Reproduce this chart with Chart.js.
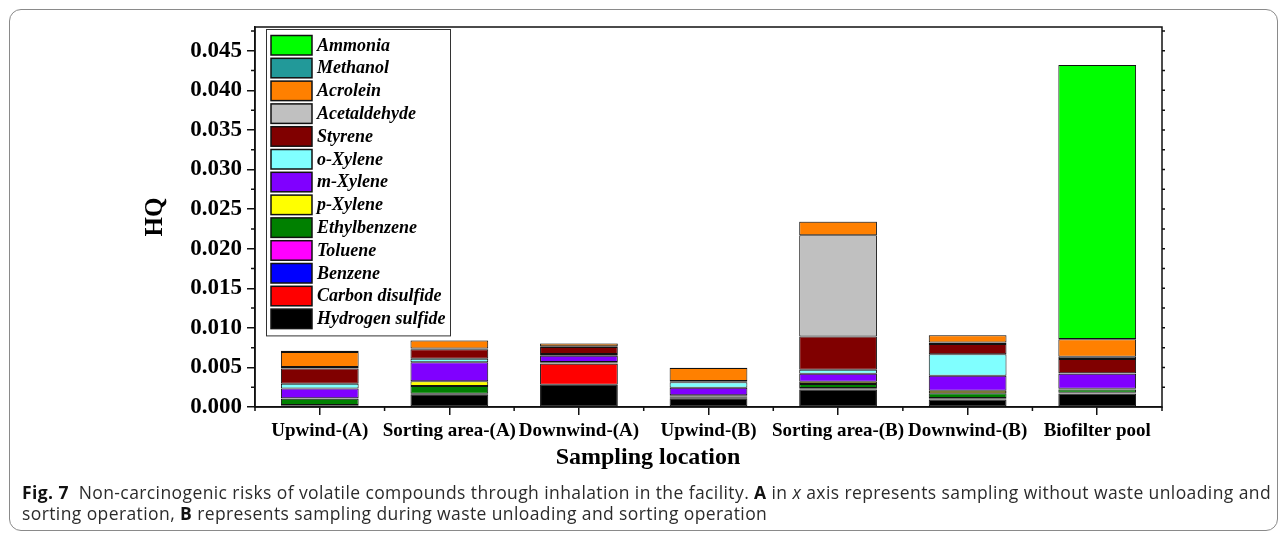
<!DOCTYPE html>
<html>
<head>
<meta charset="utf-8">
<script src="https://cdn.jsdelivr.net/npm/chart.js@4"></script>
<style>
  html, body { margin: 0; padding: 0; background: #fff; }
  #page { position: relative; width: 1285px; height: 538px; }
  #frame { position: absolute; left: 9px; top: 9px; width: 1267px; height: 520px;
           border: 1px solid #8a8a8a; border-radius: 12px; }
  #hqChart { position: absolute; left: 0; top: 0; }
  #caption { position: absolute; left: 22px; top: 482px;
             font-family: "Open Sans", sans-serif; font-size: 17.5px; line-height: 21px;
             color: #2b2b2b; white-space: nowrap; }
  #caption b { color: #111; }
</style>
</head>
<body>
<div id="page">
  <div id="frame"></div>
  <canvas id="hqChart" width="1285" height="538"></canvas>
  <div id="caption">
    <span id="capLine1"><b>Fig. 7</b>&nbsp; Non-carcinogenic risks of volatile compounds through inhalation in the facility. <b>A</b> in <i>x</i> axis represents sampling without waste unloading and</span><br>
    <span id="capLine2">sorting operation, <b>B</b> represents sampling during waste unloading and sorting operation</span>
  </div>
</div>
<script>
const sites = ["Upwind-(A)", "Sorting area-(A)", "Downwind-(A)", "Upwind-(B)", "Sorting area-(B)", "Downwind-(B)", "Biofilter pool"];
const yTicks = [0, 0.005, 0.010, 0.015, 0.020, 0.025, 0.030, 0.035, 0.040, 0.045];
const xTitle = "Sampling location";

// HQ per compound, one value per sampling location
const hydrogenSulfide = [0.00005, 0.0016, 0.0028, 0.0011, 0.0022, 0.00095, 0.0017];
const carbonDisulfide = [0, 0, 0.00265, 0, 0, 0, 0];
const benzene = [0.0001, 0.00003, 0.00005, 0.00003, 0.0001, 0.0001, 0.00005];
const toluene = [0.0001, 0.00003, 0.00005, 0.00003, 0.0001, 0.0001, 0.00005];
const ethylbenzene = [0.0008, 0.001, 0.0001, 0.00017, 0.0005, 0.0006, 0.0004];
const pXylene = [0.00005, 0.0006, 0.00005, 0.00016, 0.0003, 0.0003, 0.0001];
const mXylene = [0.00125, 0.0024, 0.00076, 0.00095, 0.001, 0.0019, 0.0019];
const oXylene = [0.0006, 0.00044, 0.00025, 0.0007, 0.0005, 0.0027, 0.00005];
const styrene = [0.0019, 0.0012, 0.00086, 0.0001, 0.0042, 0.0013, 0.0018];
const acetaldehyde = [0.0002, 0.0001, 0.0001, 0.00005, 0.0128, 0.0002, 0.0003];
const acrolein = [0.0019, 0.001, 0.00035, 0.00165, 0.0017, 0.0009, 0.0022];
const methanol = [0.00015, 0.00003, 0.00003, 0.00003, 0.00003, 0.00005, 0.00005];
const ammonia = [0, 0, 0, 0, 0, 0, 0.0346];

const serif = "'Liberation Serif', 'Times New Roman', serif";

function layer(label, data, color) {
    return {
        label: label,
        data: data,
        backgroundColor: color,
        borderColor: "#111",
        borderWidth: 1,
        borderSkipped: false,
        barPercentage: 0.6,
        categoryPercentage: 1
    };
}

// legend in a framed box in the top-left corner of the plot, top layer first
const boxLegend = {
    id: "boxLegend",
    afterDraw(chart) {
        const ctx = chart.ctx;
        const area = chart.chartArea;
        const sets = chart.data.datasets.slice().reverse();
        const x0 = area.left + 11;
        const y0 = area.top + 2;
        const rowH = 22.8;
        ctx.save();
        ctx.strokeStyle = "#333";
        ctx.lineWidth = 1;
        ctx.strokeRect(x0 + 0.5, y0 + 0.5, 184, sets.length * rowH + 10);
        ctx.font = "bold italic 18px " + serif;
        ctx.textBaseline = "middle";
        sets.forEach((ds, i) => {
            const y = y0 + 6.5 + i * rowH;
            ctx.fillStyle = ds.backgroundColor;
            ctx.fillRect(x0 + 5, y, 41, 19.5);
            ctx.strokeStyle = "#111";
            ctx.lineWidth = 1.5;
            ctx.strokeRect(x0 + 5, y, 41, 19.5);
            ctx.fillStyle = "#000";
            ctx.fillText(ds.label, x0 + 51, y + 10.5);
        });
        ctx.restore();
    }
};

// closed axis box, minor tick marks and the x axis title
const axisFrame = {
    id: "axisFrame",
    afterDraw(chart) {
        const ctx = chart.ctx;
        const a = chart.chartArea;
        const x = chart.scales.x;
        const y = chart.scales.y;
        ctx.save();
        ctx.strokeStyle = "#111";
        ctx.lineWidth = 1.5;
        ctx.strokeRect(a.left, a.top, a.right - a.left, a.bottom - a.top);
        ctx.beginPath();
        for (let v = 0.0025; v < y.max; v += 0.005) {
            const py = y.getPixelForValue(v);
            ctx.moveTo(a.left - 4, py);
            ctx.lineTo(a.left, py);
        }
        for (let v = 0.0025; v < y.max; v += 0.0025) {
            const py = y.getPixelForValue(v);
            ctx.moveTo(a.right, py);
            ctx.lineTo(a.right + 3, py);
        }
        for (let i = 0; i <= sites.length; i++) {
            const px = x.getPixelForValue(i - 0.5);
            ctx.moveTo(px, a.bottom);
            ctx.lineTo(px, a.bottom + 4);
        }
        ctx.stroke();

        ctx.fillStyle = "#000";
        ctx.font = "bold 24px " + serif;
        ctx.textAlign = "center";
        ctx.textBaseline = "middle";
        ctx.fillText(xTitle, a.left + 393, a.bottom + 51);
        ctx.restore();
    }
};

new Chart(document.getElementById("hqChart"), {
    type: "bar",
    data: {
        labels: sites,
        datasets: [
            layer("Hydrogen sulfide", hydrogenSulfide, "#000000"),
            layer("Carbon disulfide", carbonDisulfide, "#ff0000"),
            layer("Benzene", benzene, "#0000ff"),
            layer("Toluene", toluene, "#ff00ff"),
            layer("Ethylbenzene", ethylbenzene, "#008000"),
            layer("p-Xylene", pXylene, "#ffff00"),
            layer("m-Xylene", mXylene, "#8000ff"),
            layer("o-Xylene", oXylene, "#80ffff"),
            layer("Styrene", styrene, "#800000"),
            layer("Acetaldehyde", acetaldehyde, "#c0c0c0"),
            layer("Acrolein", acrolein, "#ff8000"),
            layer("Methanol", methanol, "#229999"),
            layer("Ammonia", ammonia, "#00ff00")
        ]
    },
    options: {
        responsive: false,
        animation: false,
        devicePixelRatio: 1,
        layout: {
            padding: { left: 0, top: 27, right: 123, bottom: 0 }
        },
        plugins: {
            legend: { display: false },
            tooltip: { enabled: false }
        },
        scales: {
            x: {
                stacked: true,
                offset: true,
                grid: { drawOnChartArea: false, offset: false, tickLength: 8, color: "#111", lineWidth: 1.5 },
                border: { color: "#111", width: 1.5 },
                ticks: {
                    color: "#000",
                    padding: 5,
                    maxRotation: 0,
                    autoSkip: false,
                    font: { family: serif, weight: "bold", size: 19 }
                },
                afterFit(scale) { scale.height = 131; }
            },
            y: {
                stacked: true,
                min: 0,
                max: 0.048,
                grid: { drawOnChartArea: false, tickLength: 8, color: "#111", lineWidth: 1.5 },
                border: { color: "#111", width: 1.5 },
                ticks: {
                    color: "#000",
                    padding: 5,
                    includeBounds: false,
                    font: { family: serif, weight: "bold", size: 23 },
                    callback: v => v.toFixed(3)
                },
                afterBuildTicks(scale) { scale.ticks = yTicks.map(v => ({ value: v })); },
                title: {
                    display: true,
                    text: "HQ",
                    color: "#000",
                    font: { family: serif, weight: "bold", size: 25 },
                    padding: { top: 141, bottom: 0 }
                },
                afterFit(scale) { scale.width = 255; }
            }
        }
    },
    plugins: [boxLegend, axisFrame]
});

// the caption's first line runs across the whole frame
document.fonts.ready.then(() => {
    const line1 = document.getElementById("capLine1");
    const line2 = document.getElementById("capLine2");
    const spare = 1249 - line1.getBoundingClientRect().width;
    const spacing = spare / line1.textContent.length + "px";
    line1.style.letterSpacing = spacing;
    line2.style.letterSpacing = spacing;
});
</script>
</body>
</html>
